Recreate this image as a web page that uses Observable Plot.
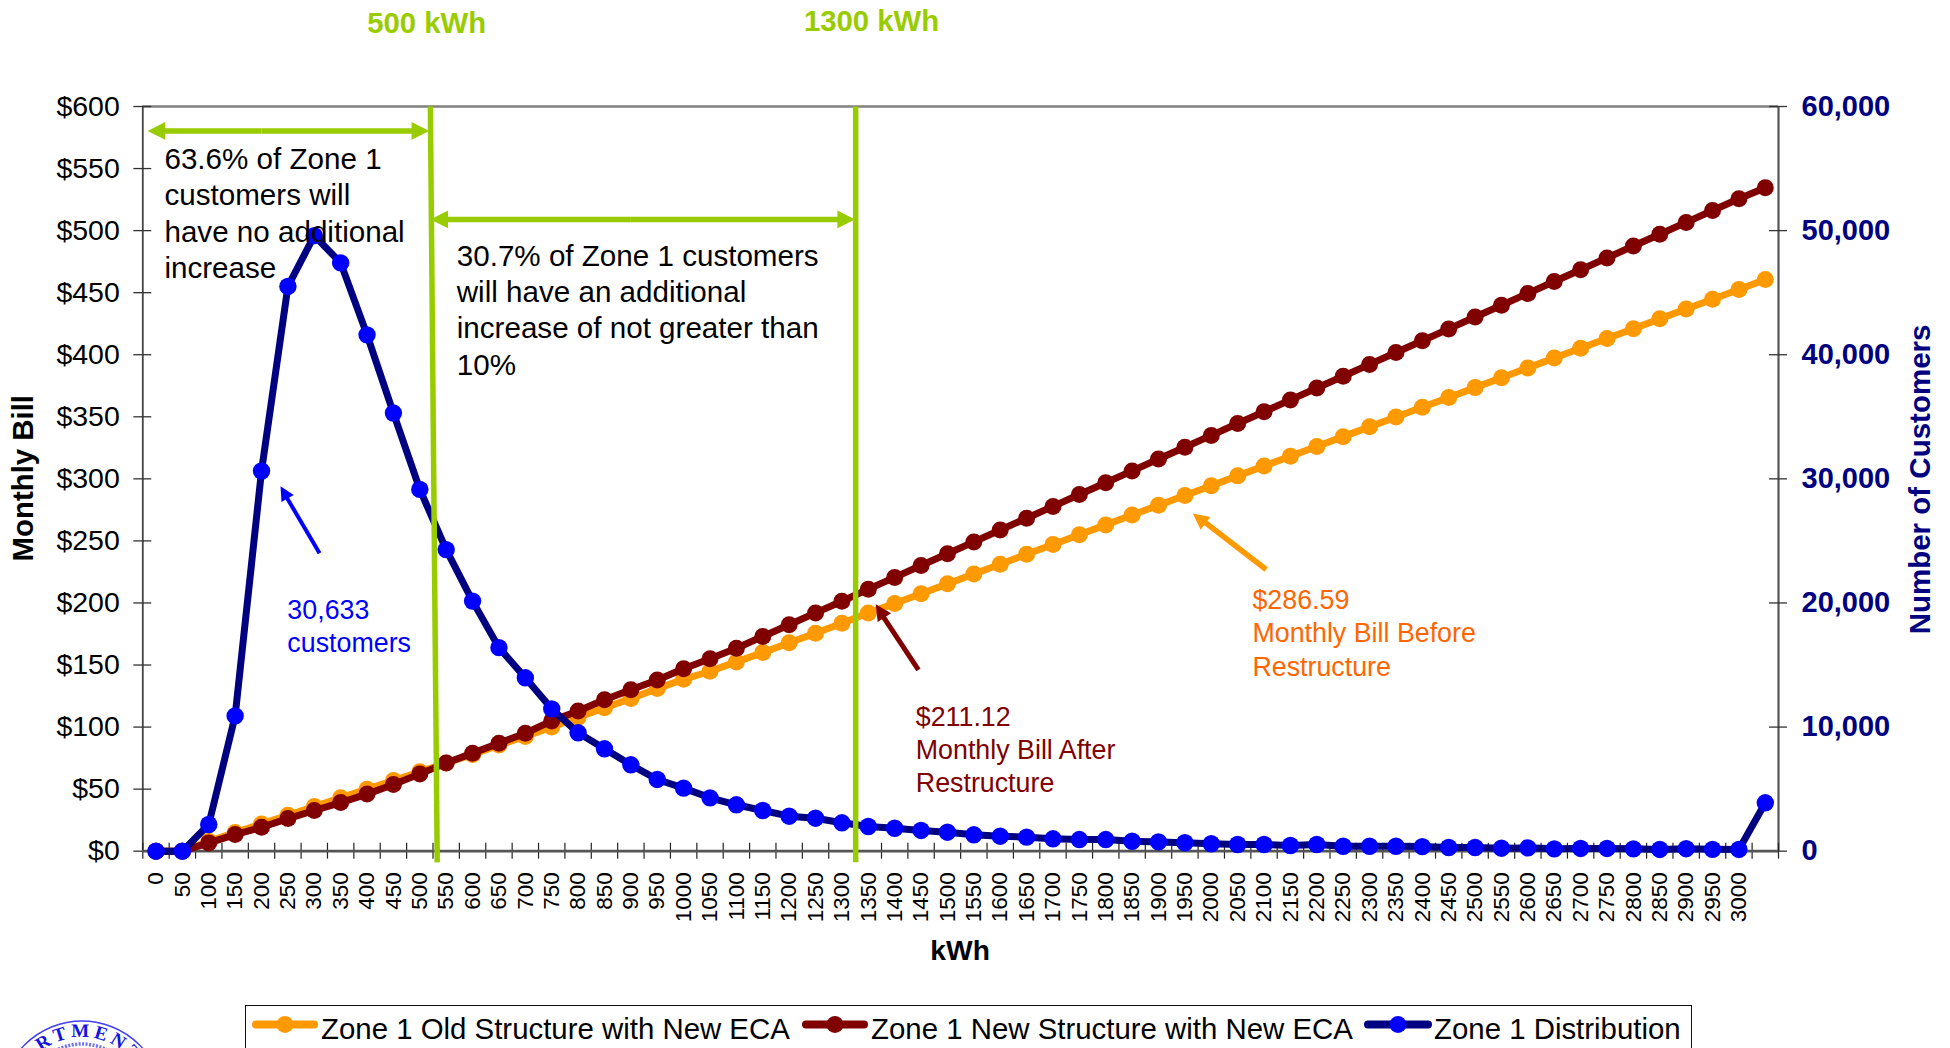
<!DOCTYPE html>
<html>
<head>
<meta charset="utf-8">
<title>Zone 1 monthly bills and customer distribution</title>
<script src="https://cdn.jsdelivr.net/npm/d3@7"></script>
<script src="https://cdn.jsdelivr.net/npm/@observablehq/plot@0.6"></script>
<style>
  html, body { margin: 0; padding: 0; background: #fff; overflow: hidden; }
  #stage { position: relative; width: 1950px; height: 1048px; overflow: hidden; font-family: "Liberation Sans", Arial, sans-serif; }
  #chart svg { display: block; }
  #legend { position: absolute; left: 245px; top: 1005px; width: 1447px; height: 70px; border: 1.5px solid #111; box-sizing: border-box; }
  .entry { position: absolute; top: 0; height: 46px; }
  .entry svg { position: absolute; left: 0; top: 2px; }
  .entry span { position: absolute; top: 5px; font-size: 29.4px; line-height: 36px; white-space: nowrap; color: #000; }
  #seal { position: absolute; left: 0; top: 1000px; }
</style>
</head>
<body>
<div id="stage">
  <div id="chart"></div>
  <div id="legend"></div>
  <svg id="seal" width="200" height="48" viewBox="0 1000 200 48">
    <defs><path id="sealArc" d="M 82 1167 A 65 65 0 1 1 82 1037 A 65 65 0 0 1 147 1102"></path></defs>
    <circle cx="82" cy="1102" r="81" fill="none" stroke="#4040f0" stroke-width="1.5"></circle>
    <circle cx="82" cy="1102" r="58" fill="none" stroke="#7070f0" stroke-width="3.5" stroke-dasharray="2 1.5"></circle>
    <text font-family="Liberation Serif, serif" font-weight="bold" font-size="19" fill="#1515e0" letter-spacing="4">
      <textPath href="#sealArc" startOffset="93">DEPARTMENT</textPath>
    </text>
  </svg>
</div>
<script>
// Usage bins in kWh; the final bin is the open-ended one past 3000 and carries no label.
const kwh = d3.range(0, 3051, 50);
const kwhLabels = d3.range(0, 3001, 50);

// Zone 1 bill under the old structure with the new ECA ($).
const oldBill = [
  0, 0, 8, 15, 22, 29, 36, 43, 50, 57, 64, 71, 78, 85.5, 92.5, 100, 108, 115.5, 123, 131,
  138.5, 145, 152.5, 160, 168, 175.6, 183.7, 192, 199.6, 207.5, 215.4, 223.3, 231.2, 239.2, 247.1, 255,
  262.9, 270.8, 278.7, 286.59, 294.5, 302.4, 310.3, 318.2, 326.1, 334, 341.9, 349.8, 357.7, 365.6,
  373.5, 381.5, 389.4, 397.3, 405.2, 413.1, 421, 428.9, 436.8, 444.7, 452.6, 460.6
];

// Zone 1 bill under the new structure with the new ECA ($).
const newBill = [
  0, 0, 6.7, 13.4, 19.3, 26.3, 32.8, 39.2, 46, 53.7, 62.3, 71, 79, 87, 95, 105, 113, 122, 130, 138,
  147, 155, 163.5, 173, 182.5, 192, 201.4, 211.12, 220.6, 230.2, 239.7, 249.2, 258.8, 268.3, 277.8, 287.4,
  296.9, 306.4, 316, 325.5, 335, 344.6, 354.1, 363.6, 373.2, 382.7, 392.2, 401.8, 411.3, 420.8,
  430.4, 439.9, 449.4, 459, 468.5, 478, 487.6, 497.1, 506.6, 516.2, 525.7, 534.5
];

// Zone 1 customers per usage bin.
const customers = [
  0, 0, 2150, 10900, 30633, 45500, 49600, 47400, 41600, 35300, 29150, 24300, 20150, 16400, 13970, 11470,
  9540, 8250, 6960, 5780, 5080, 4300, 3740, 3280, 2820, 2660, 2290, 1990, 1850, 1670, 1530, 1320,
  1210, 1130, 1000, 940, 940, 800, 750, 680, 600, 540, 540, 460, 540, 400, 400, 400,
  370, 300, 300, 240, 270, 190, 220, 220, 190, 140, 200, 150, 140, 3900
];

const dollarTicks = d3.range(0, 601, 50);
const customerTicks = d3.range(0, 601, 100); // right axis is the left scale times 100

const rows = kwh.map((k, i) => ({ kwh: k, oldBill: oldBill[i], newBill: newBill[i], customers: customers[i] }));
const binEdges = d3.range(-25, 3076, 50);

const ORANGE = "#FF9900", MAROON = "#800000", NAVY = "#000080", BLUE = "#0000FF", GREEN = "#99CC00", LABEL_ORANGE = "#FF6600";
const FONT = "Liberation Sans";

// Filled arrowhead with its tip on the anchor point, pointing up before rotation.
const arrowHead = {
  draw(ctx, size) {
    const l = Math.sqrt(size);
    ctx.moveTo(0, 0);
    ctx.lineTo(l / 2, l);
    ctx.lineTo(-l / 2, l);
    ctx.closePath();
  }
};

// Callout shafts and heads in chart units: shaft from tail to neck, head on the tip.
const callouts = [
  { color: GREEN, width: 5.5, r: 10, angle: -90, tail: [200, 580.3], neck: [5, 580.3], tip: [-16, 580.3] },
  { color: GREEN, width: 5.5, r: 10, angle: 90, tail: [200, 580.3], neck: [497, 580.3], tip: [518, 580.3] },
  { color: GREEN, width: 5.5, r: 10, angle: -90, tail: [900, 509], neck: [541, 509], tip: [520, 509] },
  { color: GREEN, width: 5.5, r: 10, angle: 90, tail: [900, 509], neck: [1304, 509], tip: [1325, 509] },
  { color: BLUE, width: 4, r: 8, angle: -30, tail: [310, 240], neck: [245, 287], tip: [236, 294] },
  { color: MAROON, width: 5, r: 9, angle: -33, tail: [1445, 146], neck: [1375, 191], tip: [1364, 199] },
  { color: ORANGE, width: 5.5, r: 9, angle: -52.5, tail: [2104, 227], neck: [1982, 267], tip: [1965, 272] }
];

const notes = [
  { text: "63.6% of Zone 1\ncustomers will\nhave no additional\nincrease", x: 16, y: 570, color: "#000", size: 29.6, leading: 1.22 },
  { text: "30.7% of Zone 1 customers\nwill have an additional\nincrease of not greater than\n10%", x: 570, y: 492, color: "#000", size: 29.6, leading: 1.22 },
  { text: "30,633\ncustomers", x: 249, y: 206, color: BLUE, size: 26.8, leading: 1.24 },
  { text: "$286.59\nMonthly Bill Before\nRestructure", x: 2078, y: 214, color: LABEL_ORANGE, size: 26.8, leading: 1.24 },
  { text: "$211.12\nMonthly Bill After\nRestructure", x: 1440, y: 120, color: MAROON, size: 26.8, leading: 1.24 }
];

const threshold = [
  { x1: 520, y1: 600, x2: 533, y2: -9 },
  { x1: 1326, y1: 600, x2: 1326, y2: -9 }
];

const series = (key, stroke, fill, r) => [
  Plot.line(rows, { x: "kwh", y: key, stroke, strokeWidth: 7 }),
  Plot.dot(rows, { x: "kwh", y: key, fill, r })
];

const chart = Plot.plot({
  width: 1950,
  height: 1000,
  marginLeft: 142.3,
  marginRight: 172,
  marginTop: 106,
  marginBottom: 149.3,
  style: { fontFamily: FONT, background: "#fff", overflow: "visible" },
  x: { type: "linear", domain: [-25, 3075] },
  y: { domain: [0, 600] },
  marks: [
    // Frame: top edge, side axes and the baseline.
    Plot.ruleY([600], { stroke: "#808080", strokeWidth: 2.5 }),
    Plot.ruleX([-25], { y1: 0, y2: 600, stroke: "#444", strokeWidth: 1.8 }),
    Plot.ruleX([3075], { y1: 0, y2: 600, stroke: "#555", strokeWidth: 2.2 }),
    Plot.ruleX(binEdges, { y1: -6.4, y2: 6.4, stroke: "#222", strokeWidth: 1.2 }),
    Plot.ruleY(dollarTicks, { x1: -42, x2: -8, stroke: "#333", strokeWidth: 1.3 }),
    Plot.ruleY(customerTicks, { x1: 3058, x2: 3092, stroke: "#333", strokeWidth: 1.3 }),
    Plot.ruleY([0], { stroke: "#555", strokeWidth: 2.8 }),

    ...series("oldBill", ORANGE, ORANGE, 8.5),
    ...series("newBill", MAROON, MAROON, 8.5),
    ...series(d => d.customers / 100, NAVY, BLUE, 8.7),

    // Threshold lines at the tier boundaries.
    Plot.link(threshold, { x1: "x1", y1: "y1", x2: "x2", y2: "y2", stroke: GREEN, strokeWidth: 5.5 }),

    // Callout arrows.
    Plot.link(callouts, {
      x1: d => d.tail[0], y1: d => d.tail[1],
      x2: d => d.neck[0], y2: d => d.neck[1],
      stroke: "color", strokeWidth: "width"
    }),
    ...callouts.map(d => Plot.dot([d], {
      x: c => c.tip[0], y: c => c.tip[1],
      r: d.r, fill: d.color, symbol: arrowHead, rotate: d.angle
    })),

    // Notes inside the plot area.
    ...notes.map(n => Plot.text([n], {
      x: "x", y: "y", text: "text", fill: n.color, fontSize: n.size,
      textAnchor: "start", lineAnchor: "top", lineHeight: n.leading
    })),

    // Axes.
    Plot.axisX(kwhLabels, { tickSize: 0, tickPadding: 21, tickRotate: -90, fontSize: 22.5, fill: "#000", label: null, tickFormat: d => String(d) }),
    Plot.axisY(dollarTicks, { anchor: "left", tickSize: 0, tickPadding: 23, fontSize: 28.5, fill: "#000", label: null, tickFormat: d => `$${d}` }),
    Plot.axisY(customerTicks, { anchor: "right", tickSize: 0, tickPadding: 23, fontSize: 29, fontWeight: "bold", fill: NAVY, label: null, tickFormat: d => d === 0 ? "0" : d3.format(",")(d * 100) }),

    // Axis titles and threshold headings.
    Plot.text(["Monthly Bill"], { x: [-251], y: [300.5], rotate: -90, fontSize: 29.4, fontWeight: "bold", fill: "#000" }),
    Plot.text(["Number of Customers"], { x: [3344], y: [299.5], rotate: -90, fontSize: 29.5, fontWeight: "bold", fill: NAVY }),
    Plot.text(["kWh"], { x: [1524], y: [-80], fontSize: 28.2, fontWeight: "bold", fill: "#000" }),
    Plot.text(["500 kWh"], { x: [513], y: [667], fontSize: 29.3, fontWeight: "bold", fill: GREEN }),
    Plot.text(["1300 kWh"], { x: [1356], y: [668], fontSize: 29.3, fontWeight: "bold", fill: GREEN })
  ]
});
document.getElementById("chart").append(chart);

// Legend below the chart.
const legendEntries = [
  { label: "Zone 1 Old Structure with New ECA", stroke: ORANGE, fill: ORANGE, left: 6, w: 66, textLeft: 75 },
  { label: "Zone 1 New Structure with New ECA", stroke: MAROON, fill: MAROON, left: 556, w: 66, textLeft: 625 },
  { label: "Zone 1 Distribution", stroke: NAVY, fill: BLUE, left: 1118, w: 68, textLeft: 1188 }
];
const legend = document.getElementById("legend");
for (const e of legendEntries) {
  const div = document.createElement("div");
  div.className = "entry";
  div.style.left = e.left + "px";
  div.innerHTML =
    `<svg width="${e.w}" height="30"><line x1="4" x2="${e.w - 4}" y1="16.5" y2="16.5" stroke="${e.stroke}" stroke-width="8" stroke-linecap="round"></line><circle cx="${e.w / 2}" cy="16.5" r="8.5" fill="${e.fill}"></circle></svg>` +
    `<span style="left:${e.textLeft - e.left}px">${e.label}</span>`;
  legend.append(div);
}
</script>
</body>
</html>
